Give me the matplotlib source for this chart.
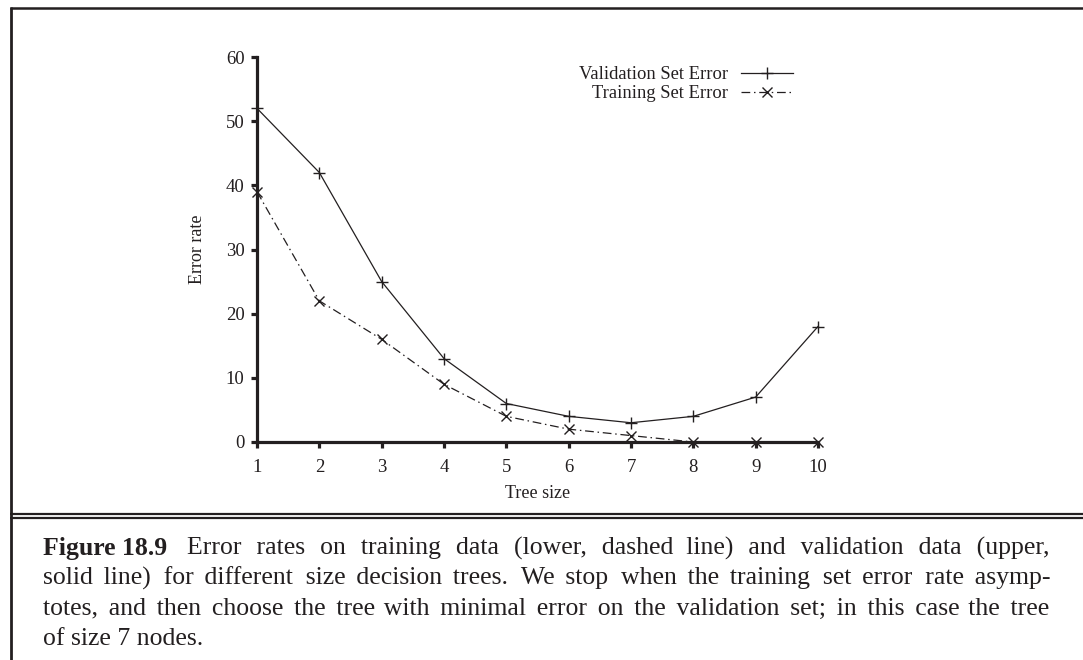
import matplotlib
matplotlib.use("Agg")
import matplotlib.pyplot as plt
from matplotlib.lines import Line2D

plt.rcParams['font.family'] = ['Liberation Serif', 'DejaVu Serif']

INK = '#231f20'
W, H = 1083, 660

# error rates per tree size
tree_size = [1, 2, 3, 4, 5, 6, 7, 8, 9, 10]
validation_err = [52, 42, 25, 13, 6, 4, 3, 4, 7, 18]
training_err = [39, 22, 16, 9, 4, 2, 1, 0, 0, 0]

caption_lines = [
    "Error rates on training data (lower, dashed line) and validation data (upper,",
    "solid line) for different size decision trees. We stop when the training set error rate asymp-",
    "totes, and then choose the tree with minimal error on the validation set; in this case the tree",
    "of size 7 nodes.",
]

fig = plt.figure(figsize=(W / 100, H / 100), dpi=100)
ax = fig.add_axes([257 / W, 1 - 442 / H, (818 - 257) / W, (442 - 57) / H])

ax.plot(tree_size, validation_err, color=INK, lw=0.9, marker='+', ms=8, mew=1.0,
        clip_on=False, label='Validation Set Error', zorder=3)
ax.plot(tree_size, training_err, color=INK, lw=0.9, marker='x', ms=7, mew=1.0,
        linestyle=(0, (7, 3, 1.2, 3)), clip_on=False, label='Training Set Error', zorder=3)

ax.set_xlim(1, 10)
ax.set_ylim(0, 60)
ax.set_xticks(tree_size)
ax.set_yticks(range(0, 61, 10))
for s in ['top', 'right']:
    ax.spines[s].set_visible(False)
for s in ['left', 'bottom']:
    ax.spines[s].set_linewidth(2.3)
    ax.spines[s].set_color(INK)
    ax.spines[s].set_zorder(2)
ax.tick_params(direction='out', length=4, width=2.3, color=INK, labelcolor=INK,
               labelsize=13.5)
ax.tick_params(axis='y', pad=5)
ax.tick_params(axis='x', pad=8)
ax.set_xlabel('Tree size', fontsize=13, color=INK, labelpad=7)
ax.set_ylabel('Error rate', fontsize=13, color=INK, labelpad=14)

leg = ax.legend(loc='upper right', bbox_to_anchor=(793 / W, 1 - 66 / H),
                bbox_transform=fig.transFigure, frameon=False, markerfirst=False,
                fontsize=13.4, handlelength=2.8, handletextpad=0.7,
                labelspacing=0.12, borderpad=0, borderaxespad=0)
for t in leg.get_texts():
    t.set_color(INK)

# frame around figure and caption
def hline(y, lw, x0=10, x1=W):
    fig.add_artist(Line2D([x0 / W, x1 / W], [1 - y / H, 1 - y / H],
                          transform=fig.transFigure, color=INK, lw=lw,
                          solid_capstyle='butt'))

hline(8, 1.8)
hline(513.5, 1.6)
hline(518.2, 1.6)
fig.add_artist(Line2D([10.5 / W, 10.5 / W], [1 - 7 / H, 0], transform=fig.transFigure,
                      color=INK, lw=2.0, solid_capstyle='butt'))

# justified caption: one text per line, word gaps padded with hair spaces
fig.canvas.draw()
renderer = fig.canvas.get_renderer()
CAP_FS = 18.5
HAIR = '\u200a'
x_left, x_right = 43, 1050
baselines = [555, 585, 615, 645]


def width(s, weight='normal'):
    t = fig.text(0, 0, s, fontsize=CAP_FS, fontweight=weight)
    w = t.get_window_extent(renderer).width
    t.remove()
    return w


hair_w = (width('a' + HAIR * 20 + 'a') - width('aa')) / 20


def justified(words, target):
    natural = width(' '.join(words))
    extra = max(0.0, target - natural)
    gaps = len(words) - 1
    out, used = words[0], 0
    for i in range(1, len(words)):
        want = round(extra * i / gaps / hair_w)
        out += ' ' + HAIR * (want - used) + words[i]
        used = want
    return out


def put(s, x, y, weight='normal'):
    fig.text(x / W, 1 - y / H, s, fontsize=CAP_FS, fontweight=weight, color=INK,
             va='baseline', ha='left')


head_w = width('Figure 18.9', 'bold')
put('Figure 18.9', x_left, baselines[0], 'bold')
start = max(181, x_left + head_w + 20)
put(justified(caption_lines[0].split(), x_right - start), start, baselines[0])
for line, y in zip(caption_lines[1:3], baselines[1:3]):
    put(justified(line.split(), x_right - x_left), x_left, y)
put(caption_lines[3], x_left, baselines[3])

fig.savefig('out.png', dpi=100)
